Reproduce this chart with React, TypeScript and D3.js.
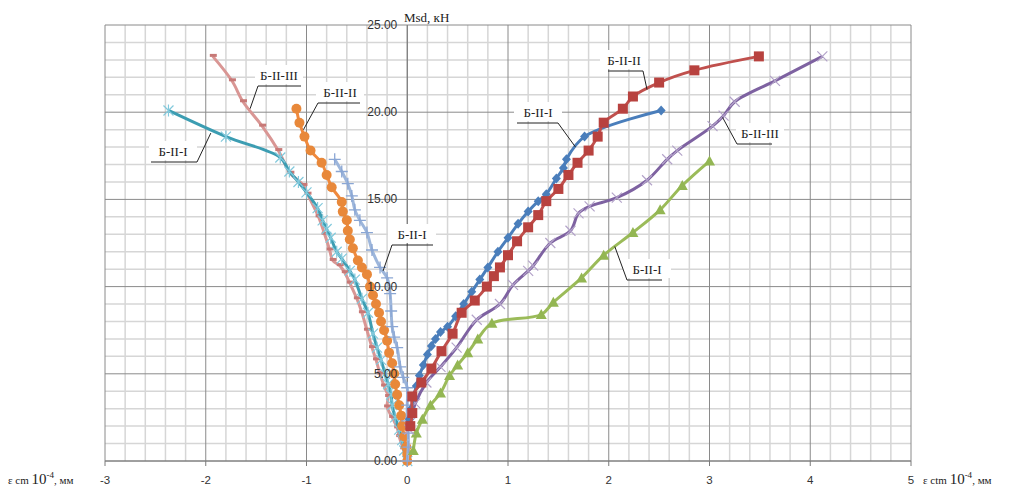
import React from 'react';
import * as d3 from 'd3';

// ---- data (ε, 10^-4 ; Msd, кН) ----
const xTicks = [-3, -2, -1, 0, 1, 2, 3, 4, 5];
const yTicks = [0, 5, 10, 15, 20, 25];

const tealBII1: [number, number][] = [
  [0, 0], [-0.03, 0.6], [-0.05, 1.2], [-0.08, 1.8], [-0.12, 2.5], [-0.15, 3.2], [-0.16, 3.8],
  [-0.19, 4.4], [-0.22, 5.0], [-0.26, 5.8], [-0.3, 6.5], [-0.34, 7.3], [-0.39, 8.5], [-0.45, 9.3],
  [-0.52, 10.4], [-0.57, 10.9], [-0.65, 11.6], [-0.7, 12.0], [-0.76, 12.8], [-0.8, 13.3],
  [-0.84, 13.8], [-0.89, 14.5], [-1.0, 15.4], [-1.08, 16.0], [-1.17, 16.6], [-1.26, 17.4],
  [-1.8, 18.6], [-2.37, 20.1],
];
const pinkBII3: [number, number][] = [
  [0, 0], [-0.04, 0.7], [-0.08, 1.4], [-0.1, 1.9], [-0.15, 2.5], [-0.2, 3.1], [-0.19, 3.7],
  [-0.23, 4.3], [-0.27, 5.0], [-0.31, 5.8], [-0.35, 6.5], [-0.4, 7.5], [-0.45, 8.5], [-0.5, 9.3],
  [-0.57, 10.2], [-0.62, 10.8], [-0.67, 11.2], [-0.74, 11.5], [-0.77, 12.1], [-0.82, 13.0],
  [-0.88, 14.0], [-0.99, 15.3], [-1.03, 15.8], [-1.16, 16.5], [-1.28, 17.8], [-1.44, 19.2],
  [-1.63, 20.6], [-1.74, 21.8], [-1.93, 23.2],
];
const orangeBII2: [number, number][] = [
  [0, 0], [0, 0.4], [-0.01, 0.8], [-0.03, 1.4], [-0.05, 2.0], [-0.06, 2.6], [-0.08, 3.2],
  [-0.1, 3.8], [-0.12, 4.4], [-0.13, 5.0], [-0.15, 5.6], [-0.18, 6.2], [-0.2, 6.9], [-0.23, 7.5],
  [-0.26, 8.0], [-0.28, 8.5], [-0.31, 9.0], [-0.34, 9.5], [-0.37, 10.0], [-0.4, 10.7],
  [-0.45, 11.1], [-0.49, 11.5], [-0.54, 12.2], [-0.57, 12.7], [-0.59, 13.2], [-0.6, 13.8],
  [-0.64, 14.3], [-0.65, 14.85], [-0.75, 15.7], [-0.8, 16.4], [-0.85, 17.1], [-0.96, 17.8],
  [-1.02, 18.6], [-1.07, 19.4], [-1.1, 20.2],
];
const lightBII1: [number, number][] = [
  [0, 0], [0.01, 0.8], [0.01, 1.6], [0, 2.3], [0, 3.2], [0, 4.2], [-0.04, 4.8], [-0.07, 5.4],
  [-0.1, 6.5], [-0.13, 7.1], [-0.15, 7.7], [-0.16, 8.6], [-0.17, 9.6], [-0.2, 10.5],
  [-0.27, 11.1], [-0.35, 12.1], [-0.4, 13.1], [-0.47, 13.8], [-0.52, 14.4], [-0.55, 15.2],
  [-0.59, 15.9], [-0.65, 16.6], [-0.72, 17.3],
];
const blueBII1: [number, number][] = [
  [0.02, 2.4], [0.04, 3.0], [0.06, 3.6], [0.09, 4.3], [0.12, 4.9], [0.16, 5.5], [0.2, 6.1],
  [0.24, 6.6], [0.28, 7.0], [0.33, 7.4], [0.4, 7.7], [0.48, 8.3], [0.56, 9.0], [0.64, 9.7],
  [0.72, 10.4], [0.8, 11.1], [0.9, 12.0], [1.0, 12.8], [1.1, 13.6], [1.2, 14.3], [1.3, 14.9],
  [1.38, 15.3], [1.48, 16.2], [1.55, 16.8], [1.58, 17.3], [1.76, 18.6], [2.52, 20.1],
];
const redBII2: [number, number][] = [
  [0.03, 2.0], [0.05, 2.75], [0.05, 3.7], [0.14, 4.5], [0.24, 5.3], [0.34, 6.3], [0.45, 7.3],
  [0.54, 8.5], [0.67, 9.2], [0.79, 10.0], [0.86, 10.6], [0.92, 11.1], [1.0, 11.8], [1.09, 12.6],
  [1.2, 13.4], [1.3, 14.1], [1.38, 14.9], [1.5, 15.6], [1.6, 16.4], [1.69, 17.1], [1.8, 17.8],
  [1.89, 18.6], [1.95, 19.4], [2.14, 20.2], [2.24, 20.9], [2.5, 21.7], [2.85, 22.4], [3.49, 23.2],
];
const purpleBII3: [number, number][] = [
  [0.02, 1.8], [0.03, 2.2], [0.08, 3.3], [0.19, 4.5], [0.33, 5.4], [0.49, 6.5], [0.69, 8.1],
  [0.92, 9.0], [1.05, 10.1], [1.2, 10.9], [1.25, 11.2], [1.42, 12.5], [1.62, 13.2], [1.7, 14.2],
  [1.81, 14.6], [2.08, 15.1], [2.38, 16.1], [2.58, 17.3], [2.68, 17.8], [3.03, 19.2],
  [3.14, 19.8], [3.25, 20.6], [3.65, 21.8], [4.12, 23.2],
];
const greenBII1: [number, number][] = [
  [0.06, 0.6], [0.09, 1.6], [0.15, 2.4], [0.23, 3.2], [0.33, 3.9], [0.42, 4.9], [0.5, 5.5],
  [0.6, 6.2], [0.7, 7.0], [0.84, 7.9], [1.33, 8.4], [1.45, 9.1], [1.73, 10.5], [1.95, 11.8],
  [2.24, 13.1], [2.51, 14.4], [2.73, 15.8], [3.0, 17.2],
];

const seriesNames = ['Б-II-I', 'Б-II-III', 'Б-II-II', 'Б-II-I', 'Б-II-I', 'Б-II-II', 'Б-II-III', 'Б-II-I'];

type Marker = 'star' | 'dash' | 'circle' | 'plus' | 'diamond' | 'square' | 'cross' | 'triangle';
const series = [
  { data: pinkBII3, line: '#d99694', mark: '#c77977', marker: 'dash' as Marker },
  { data: tealBII1, line: '#3c9db2', mark: '#82c9dc', marker: 'star' as Marker },
  { data: orangeBII2, line: '#f0893d', mark: '#e8883a', marker: 'circle' as Marker },
  { data: lightBII1, line: '#9db6db', mark: '#8aa6d4', marker: 'plus' as Marker },
  { data: greenBII1, line: '#9bbb59', mark: '#93b653', marker: 'triangle' as Marker },
  { data: purpleBII3, line: '#7e62a1', mark: '#b3a3c9', marker: 'cross' as Marker },
  { data: blueBII1, line: '#4a7ebb', mark: '#4a7ebb', marker: 'diamond' as Marker },
  { data: redBII2, line: '#c0504d', mark: '#b8423f', marker: 'square' as Marker },
];

// callouts: anchor point on the line (data units) and label position
const callouts = [
  { text: seriesNames[0], anchor: [-1.95, 18.8], lx: 173, ly: 151, ux0: 151, ux1: 197 },
  { text: seriesNames[1], anchor: [-1.56, 20.2], lx: 279, ly: 75, ux0: 258, ux1: 301 },
  { text: seriesNames[2], anchor: [-1.03, 19.0], lx: 340, ly: 92, ux0: 318, ux1: 360 },
  { text: seriesNames[3], anchor: [-0.24, 10.9], lx: 412, ly: 234, ux0: 392, ux1: 433 },
  { text: seriesNames[4], anchor: [1.67, 18.0], lx: 538, ly: 112, ux0: 517, ux1: 558 },
  { text: seriesNames[5], anchor: [2.38, 21.3], lx: 624, ly: 60, ux0: 608, ux1: 643 },
  { text: seriesNames[6], anchor: [3.13, 19.7], lx: 760, ly: 133, ux0: 737, ux1: 772 },
  { text: seriesNames[7], anchor: [2.06, 12.3], lx: 647, ly: 269, ux0: 627, ux1: 662 },
];

const W = 1011, H = 486;
const x = d3.scaleLinear().domain([-3, 5]).range([105, 911]);
const y = d3.scaleLinear().domain([0, 25]).range([461, 25]);

function drawMarker(type: Marker, cx: number, cy: number, color: string, key: string) {
  switch (type) {
    case 'circle':
      return <circle key={key} cx={cx} cy={cy} r={5} fill={color} />;
    case 'square':
      return <rect key={key} x={cx - 5} y={cy - 5} width={10} height={10} fill={color} />;
    case 'diamond':
      return <path key={key} d={`M${cx},${cy - 5}L${cx + 4.5},${cy}L${cx},${cy + 5}L${cx - 4.5},${cy}Z`} fill={color} />;
    case 'triangle':
      return <path key={key} d={`M${cx},${cy - 5.5}L${cx + 5.5},${cy + 4.5}L${cx - 5.5},${cy + 4.5}Z`} fill={color} />;
    case 'plus':
      return <path key={key} d={`M${cx - 6},${cy}H${cx + 6}M${cx},${cy - 6}V${cy + 6}`} stroke={color} strokeWidth={1.3} />;
    case 'cross':
      return <path key={key} d={`M${cx - 5},${cy - 5}L${cx + 5},${cy + 5}M${cx - 5},${cy + 5}L${cx + 5},${cy - 5}`} stroke={color} strokeWidth={1.2} />;
    case 'star':
      return <path key={key} d={`M${cx - 5},${cy - 5}L${cx + 5},${cy + 5}M${cx - 5},${cy + 5}L${cx + 5},${cy - 5}M${cx},${cy - 6}V${cy + 6}`} stroke={color} strokeWidth={1.2} />;
    case 'dash':
      return <path key={key} d={`M${cx - 3},${cy - 1}H${cx + 4}`} stroke={color} strokeWidth={3} />;
  }
}

export default function App() {
  const line = d3.line<[number, number]>()
    .x(d => x(d[0]))
    .y(d => y(d[1]))
    .curve(d3.curveCatmullRom.alpha(0.5));

  const minorX = d3.range(-3, 5.001, 0.2).map(v => Math.round(v * 10) / 10);
  const minorY = d3.range(0, 25.001, 1);

  return (
    <svg width={W} height={H} style={{ position: 'absolute', left: 0, top: 0, background: '#fff' }}>
      {/* grid */}
      <g>
        {minorX.filter(v => !Number.isInteger(v)).map(v => (
          <line key={'mx' + v} x1={x(v)} x2={x(v)} y1={y(25)} y2={y(0)} stroke="#d6d6d6" strokeWidth={1.5} />
        ))}
        {minorY.filter(v => v % 5 !== 0).map(v => (
          <line key={'my' + v} x1={x(-3)} x2={x(5)} y1={y(v)} y2={y(v)} stroke="#d6d6d6" strokeWidth={1.5} />
        ))}
        {xTicks.map(v => (
          <line key={'Mx' + v} x1={x(v)} x2={x(v)} y1={y(25)} y2={y(0)} stroke="#8a8a8a" strokeWidth={1} />
        ))}
        {yTicks.map(v => (
          <line key={'My' + v} x1={x(-3)} x2={x(5)} y1={y(v)} y2={y(v)} stroke="#8a8a8a" strokeWidth={1} />
        ))}
      </g>

      {/* axes */}
      <line x1={x(0)} x2={x(0)} y1={y(25)} y2={y(0)} stroke="#7a7a7a" strokeWidth={1} />
      <line x1={x(-3)} x2={x(5)} y1={y(0)} y2={y(0)} stroke="#7a7a7a" strokeWidth={1} />
      {xTicks.map(v => (
        <line key={'tx' + v} x1={x(v)} x2={x(v)} y1={y(0)} y2={y(0) + 5} stroke="#7a7a7a" />
      ))}
      {xTicks.map(v => (
        <text key={'lx' + v} x={x(v)} y={484} textAnchor="middle" fontFamily="Liberation Sans, Arial" fontSize={11.5} fill="#333">
          {v}
        </text>
      ))}

      {/* axis titles */}
      <text x={404} y={22} fontFamily="Liberation Serif, Times New Roman" fontSize={13} fill="#222">Msd, кН</text>
      <text x={8} y={484} fontFamily="Liberation Serif, Times New Roman" fill="#222">
        <tspan fontSize={11}>ε cm </tspan>
        <tspan fontSize={15}>10</tspan>
        <tspan fontSize={9} dy={-6}>-4</tspan>
        <tspan fontSize={11} dy={6}>, мм</tspan>
      </text>
      <text x={923} y={484} fontFamily="Liberation Serif, Times New Roman" fill="#222">
        <tspan fontSize={11}>ε ctm </tspan>
        <tspan fontSize={15}>10</tspan>
        <tspan fontSize={9} dy={-6}>-4</tspan>
        <tspan fontSize={11} dy={6}>, мм</tspan>
      </text>

      {/* series */}
      {series.map((s, i) => (
        <g key={'s' + i}>
          <path d={line(s.data) || ''} fill="none" stroke={s.line} strokeWidth={3} strokeLinejoin="round" />
          {s.data.map((d, j) => drawMarker(s.marker, x(d[0]), y(d[1]), s.mark, `m${i}-${j}`))}
        </g>
      ))}

      {/* y tick labels drawn above the series, as in the original */}
      {yTicks.map(v => (
        <text key={'ly' + v} x={x(0) - 10} y={y(v) + 4} textAnchor="end" fontFamily="Liberation Sans, Arial" fontSize={12} fill="#333">
          {v.toFixed(2)}
        </text>
      ))}

      {/* callouts */}
      {callouts.map((c, i) => {
        const ax = x(c.anchor[0]);
        const ay = y(c.anchor[1]);
        const uy = c.ly + 11;
        const nearEnd = Math.abs(ax - c.ux0) < Math.abs(ax - c.ux1) ? c.ux0 : c.ux1;
        return (
          <g key={'c' + i}>
            <rect x={c.lx - 24} y={c.ly - 10} width={48} height={19} fill="#fff" />
            <polyline points={`${ax},${ay} ${nearEnd},${uy} ${nearEnd === c.ux0 ? c.ux1 : c.ux0},${uy}`} fill="none" stroke="#222" strokeWidth={1} />
            <text x={c.lx} y={c.ly + 5} textAnchor="middle" fontFamily="Liberation Serif, Times New Roman" fontSize={13} fill="#222">
              {c.text}
            </text>
          </g>
        );
      })}
    </svg>
  );
}
